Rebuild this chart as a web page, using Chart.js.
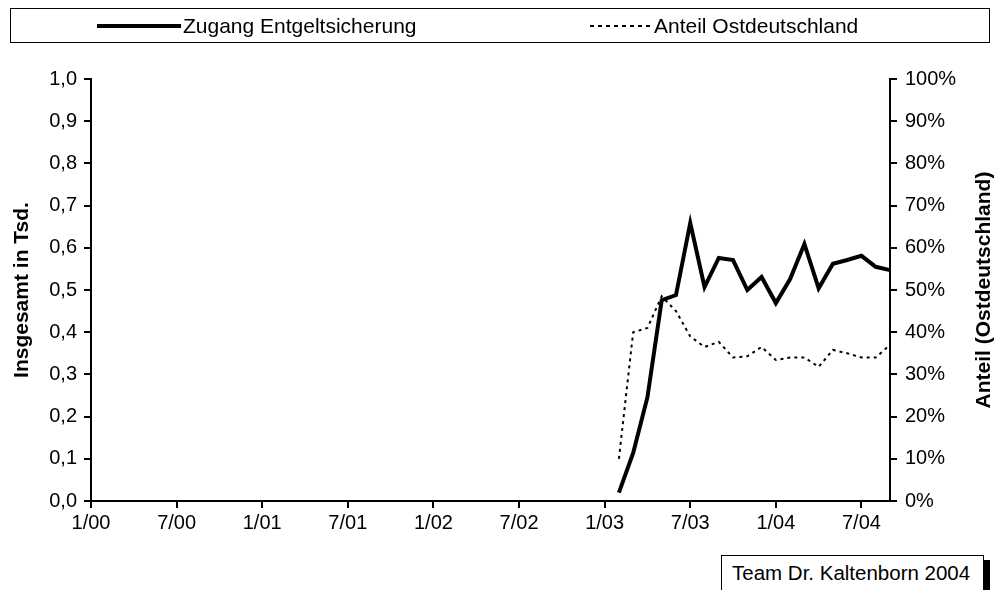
<!DOCTYPE html>
<html>
<head>
<meta charset="utf-8">
<script src="https://cdn.jsdelivr.net/npm/chart.js@4/dist/chart.umd.min.js"></script>
<style>
  html, body { margin: 0; padding: 0; background: #fff; }
  body { width: 999px; height: 590px; position: relative; overflow: hidden; font-family: "Liberation Sans", Arial, sans-serif; }
  #c { position: absolute; left: 0; top: 0; }
  #legend { position: absolute; left: 10px; top: 8px; width: 980px; height: 35px; border: 1px solid #000; box-sizing: border-box; font-size: 21px; color: #000; }
  .item { position: absolute; top: 0; height: 33px; display: flex; align-items: center; white-space: nowrap; }
  .item svg { display: block; margin-right: 2px; }
  #footer { position: absolute; left: 721px; top: 555px; width: 263px; height: 35px; border: 1px solid #000; border-bottom: none; box-sizing: border-box; font-size: 20.5px; padding-left: 10px; line-height: 33px; white-space: nowrap; background: #fff; }
  #shadow { position: absolute; left: 984px; top: 560px; width: 6px; height: 30px; background: #000; }
</style>
</head>
<body>
<canvas id="c" width="999" height="590"></canvas>
<div id="legend"></div>
<div id="shadow"></div>
<div id="footer">Team Dr. Kaltenborn 2004</div>
<script>
// Month categories on the x axis (Jan 2000 .. Sep 2004)
const categories = [
  '1/00','2/00','3/00','4/00','5/00','6/00','7/00','8/00','9/00','10/00','11/00','12/00',
  '1/01','2/01','3/01','4/01','5/01','6/01','7/01','8/01','9/01','10/01','11/01','12/01',
  '1/02','2/02','3/02','4/02','5/02','6/02','7/02','8/02','9/02','10/02','11/02','12/02',
  '1/03','2/03','3/03','4/03','5/03','6/03','7/03','8/03','9/03','10/03','11/03','12/03',
  '1/04','2/04','3/04','4/04','5/04','6/04','7/04','8/04','9/04'
];
// Labelled x ticks
const xTickLabels = ['1/00','7/00','1/01','7/01','1/02','7/02','1/03','7/03','1/04','7/04'];
// Series names
const seriesNames = ['Zugang Entgeltsicherung', 'Anteil Ostdeutschland'];
// Axis titles
const leftTitle = 'Insgesamt in Tsd.';
const rightTitle = 'Anteil (Ostdeutschland)';
// Zugang Entgeltsicherung (Tsd.), from 2/03 position onward
const zugang = [0.02, 0.114, 0.246, 0.476, 0.488, 0.659, 0.507, 0.576, 0.571, 0.500,
                0.531, 0.469, 0.526, 0.609, 0.504, 0.562, 0.571, 0.581, 0.555, 0.547];
// Anteil Ostdeutschland (%)
const anteil = [10, 40, 41, 48.5, 45, 39, 36.5, 37.7, 34, 34.3,
                36.5, 33.4, 34, 34, 31.8, 35.8, 35, 34, 34, 37];
// First category index where the series start
const startCategory = '2/03';

const startIdx = categories.indexOf(startCategory);
function pad(arr) {
  const out = new Array(categories.length).fill(null);
  arr.forEach((v, i) => { out[startIdx + i] = v; });
  return out;
}

// HTML legend
const legend = document.getElementById('legend');
const legendDefs = [
  { left: 86, w: 84, dash: null, sw: 4 },
  { left: 579, w: 62, dash: '4,4', sw: 2 }
];
seriesNames.forEach((name, i) => {
  const d = legendDefs[i];
  const el = document.createElement('div');
  el.className = 'item';
  el.style.left = d.left + 'px';
  el.innerHTML = '<svg width="' + d.w + '" height="8"><line x1="0" y1="4" x2="' + d.w + '" y2="4" stroke="#000" stroke-width="' + d.sw + '"' + (d.dash ? ' stroke-dasharray="' + d.dash + '"' : '') + '/></svg><span>' + name + '</span>';
  legend.appendChild(el);
});

const FAM = '"Liberation Sans", Arial, sans-serif';
const font = { family: FAM, size: 20 };
const boldFont = { family: FAM, size: 21, weight: 'bold' };

// Right axis title drawn reading bottom-to-top (like the reference)
const rightTitlePlugin = {
  id: 'rightTitle',
  afterDraw(chart) {
    const ctx = chart.ctx;
    const a = chart.chartArea;
    ctx.save();
    ctx.translate(984, (a.top + a.bottom) / 2);
    ctx.rotate(-Math.PI / 2);
    ctx.font = 'bold 21px ' + FAM;
    ctx.fillStyle = '#000';
    ctx.textAlign = 'center';
    ctx.textBaseline = 'middle';
    ctx.fillText(rightTitle, 0, 0);
    ctx.restore();
  }
};

new Chart(document.getElementById('c'), {
  type: 'line',
  data: {
    labels: categories,
    datasets: [
      { label: seriesNames[0], data: pad(zugang), yAxisID: 'y', borderColor: '#000', backgroundColor: '#000',
        borderWidth: 4, pointRadius: 0, tension: 0, fill: false, spanGaps: false, borderJoinStyle: 'miter' },
      { label: seriesNames[1], data: pad(anteil), yAxisID: 'y1', borderColor: '#000', backgroundColor: '#000',
        borderWidth: 2, borderDash: [3, 4], pointRadius: 0, tension: 0, fill: false, spanGaps: false }
    ]
  },
  plugins: [rightTitlePlugin],
  options: {
    responsive: false,
    animation: false,
    events: [],
    layout: { padding: { top: 79, left: 0, right: 0, bottom: 0 } },
    plugins: { legend: { display: false }, tooltip: { enabled: false } },
    scales: {
      x: {
        type: 'category',
        offset: false,
        afterFit: s => { s.height = 89; },
        border: { display: true, color: '#000', width: 2 },
        grid: { drawOnChartArea: false, drawTicks: true, tickLength: 7, color: '#000', lineWidth: 2 },
        ticks: {
          autoSkip: false, maxRotation: 0, minRotation: 0, padding: 3, color: '#000', font: font,
          callback: function (val, i) { const l = categories[i]; return xTickLabels.includes(l) ? l : null; }
        }
      },
      y: {
        position: 'left', min: 0, max: 1,
        afterFit: s => { s.width = 91; },
        border: { display: true, color: '#000', width: 2 },
        grid: { drawOnChartArea: false, drawTicks: true, tickLength: 7, color: '#000', lineWidth: 2 },
        ticks: { stepSize: 0.1, padding: 7, color: '#000', font: font,
          callback: v => v.toFixed(1).replace('.', ',') },
        title: { display: true, text: leftTitle, color: '#000', font: boldFont, padding: { top: 10, bottom: 0 } }
      },
      y1: {
        position: 'right', min: 0, max: 100,
        afterFit: s => { s.width = 109; },
        border: { display: true, color: '#000', width: 2 },
        grid: { drawOnChartArea: false, drawTicks: true, tickLength: 7, color: '#000', lineWidth: 2 },
        ticks: { stepSize: 10, padding: 8, color: '#000', font: font, callback: v => v + '%' },
        title: { display: false }
      }
    }
  }
});
</script>
</body>
</html>
